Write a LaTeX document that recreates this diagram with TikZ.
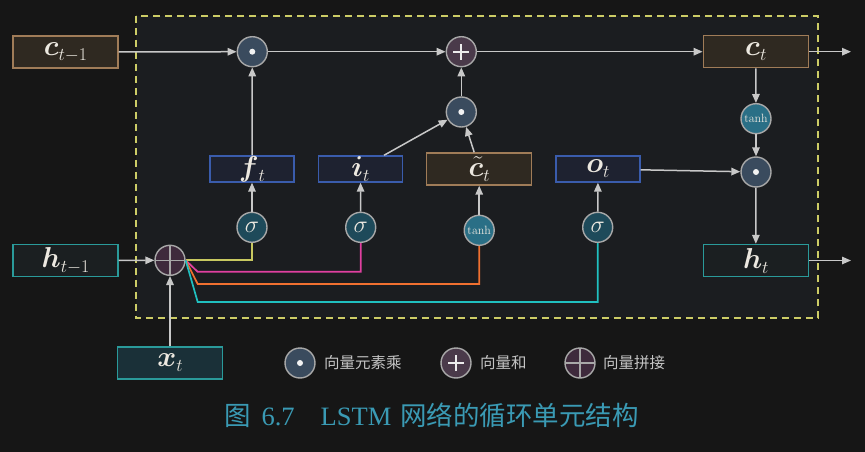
\RequirePackage{fix-cm}
\documentclass[tikz,border=0pt]{standalone}
\usepackage{fontspec}
\usepackage{bm}
\newfontfamily\cjk{Noto Sans CJK SC}
\newfontfamily\capserif{Liberation Serif}
\usetikzlibrary{arrows.meta,calc}
\newcommand\mylab[2]{\scalebox{1.2}{$\bm{#1}$}\raisebox{-5pt}{\fontsize{18}{18}\selectfont$#2$}}
\definecolor{bgc}{HTML}{161616}
\definecolor{innerc}{HTML}{1B1D20}
\definecolor{dashc}{HTML}{CCCC66}
\definecolor{arrc}{HTML}{C8C8C8}
\definecolor{cbord}{HTML}{A8A8A8}
\definecolor{mulfill}{HTML}{3A4B5E}
\definecolor{plusfill}{HTML}{4A3A4A}
\definecolor{catfill}{HTML}{3E2A3C}
\definecolor{sigfill}{HTML}{1E4A5A}
\definecolor{tanhfill}{HTML}{2A6F86}
\definecolor{gatefill}{HTML}{1E2230}
\definecolor{gatebord}{HTML}{3A5CAC}
\definecolor{brownfill}{HTML}{2F2921}
\definecolor{brownbord}{HTML}{A07C58}
\definecolor{tealbord}{HTML}{2A9A9A}
\definecolor{tealfill}{HTML}{1B1F21}
\definecolor{xfill}{HTML}{1A3038}
\definecolor{labc}{HTML}{ECE8E0}
\definecolor{yelc}{HTML}{C8C860}
\definecolor{pinkc}{HTML}{E040A0}
\definecolor{orgc}{HTML}{F07030}
\definecolor{cyanc}{HTML}{20C0C0}
\definecolor{capc}{HTML}{3A9AB4}
\definecolor{legc}{HTML}{C4C4C4}
\begin{document}
\begin{tikzpicture}[x=1pt,y=-1pt,
  arr/.style={draw=arrc, line width=1.5pt, -{Triangle[length=9pt,width=7.5pt]}},
  opnode/.style={circle, minimum size=30pt, inner sep=0pt, draw=cbord, line width=1.4pt},
  mulnode/.style={opnode, fill=mulfill, path picture={\fill[white!90!gray] (path picture bounding box.center) circle (3pt);}},
  plusnode/.style={opnode, fill=plusfill, path picture={
     \draw[white!85!gray, line width=1.7pt] ([xshift=-8pt]path picture bounding box.center) -- ([xshift=8pt]path picture bounding box.center);
     \draw[white!85!gray, line width=1.7pt] ([yshift=-8pt]path picture bounding box.center) -- ([yshift=8pt]path picture bounding box.center);}},
  catnode/.style={opnode, fill=catfill, path picture={
     \draw[cbord, line width=1.1pt] ([xshift=-16pt]path picture bounding box.center) -- ([xshift=16pt]path picture bounding box.center);
     \draw[cbord, line width=1.1pt] ([yshift=-16pt]path picture bounding box.center) -- ([yshift=16pt]path picture bounding box.center);}},
  signode/.style={opnode, fill=sigfill, text=labc, font=\fontsize{20}{22}\selectfont},
  tanhnode/.style={opnode, fill=tanhfill, text=labc, font=\fontsize{12}{13}\selectfont},
  labfont/.style={text=labc, font=\fontsize{24}{26}\selectfont},
  gatebox/.style={draw=gatebord, fill=gatefill, line width=1.4pt, minimum width=84pt, minimum height=26pt, inner sep=0pt, labfont},
  brownbox/.style={draw=brownbord, fill=brownfill, line width=1.4pt, minimum width=105pt, minimum height=32pt, inner sep=0pt, labfont},
  tealbox/.style={draw=tealbord, fill=tealfill, line width=1.4pt, minimum width=105pt, minimum height=32pt, inner sep=0pt, labfont},
  legtext/.style={anchor=west, text=legc, inner sep=0pt, font=\cjk\fontsize{15.5}{16}\selectfont},
  cline/.style={line width=1.7pt}
]
\useasboundingbox (0,0) rectangle (865,452);
\fill[bgc] (0,0) rectangle (865,452);
\draw[dashc, fill=innerc, line width=2pt, dash pattern=on 7pt off 5pt] (136,16) rectangle (818,318);

% boxes
\node[brownbox] (cprev) at (65.5,52) {\mylab{c}{t{-}1}};
\node[brownbox] (ct) at (755.8,51.7) {\mylab{c}{t}};
\node[tealbox] (hprev) at (65.5,260.5) {\mylab{h}{t{-}1}};
\node[tealbox] (ht) at (755.8,260.5) {\mylab{h}{t}};
\node[tealbox, fill=xfill] (xt) at (170,363) {\mylab{x}{t}};
\node[gatebox] (ft) at (252,169) {\mylab{f}{t}};
\node[gatebox] (it) at (360.5,169) {\mylab{i}{t}};
\node[brownbox] (cc) at (479.2,169) {\mylab{\tilde{c}}{t}};
\node[gatebox] (ot) at (598,169) {\mylab{o}{t}};

% operators
\node[mulnode] (m1) at (252.3,51.7) {};
\node[plusnode] (p1) at (461.3,51.7) {};
\node[mulnode] (m2) at (461.3,112) {};
\node[tanhnode] (th2) at (756,118.7) {tanh};
\node[mulnode] (m3) at (756,172) {};
\node[signode] (sf) at (252,227.3) {\scalebox{1.2}{$\sigma$}};
\node[signode] (si) at (360.7,227.3) {\scalebox{1.2}{$\sigma$}};
\node[tanhnode] (tc) at (479.2,230.3) {tanh};
\node[signode] (so) at (597.7,227.3) {\scalebox{1.2}{$\sigma$}};
\node[catnode] (cat) at (170,260.3) {};

\coordinate (cout) at (851,51.7);
\coordinate (hout) at (851,260.5);

% colored lines
\draw[cline, yelc] (cat.east) -- (sf.south |- cat.east) -- (sf.south);
\draw[cline, pinkc] (cat.east) -- ($(cat.east)+(12,11.5)$) -- (si.south |- {$(cat.east)+(12,11.5)$}) -- (si.south);
\draw[cline, orgc] (cat.east) -- ($(cat.east)+(12,23.7)$) -- (tc.south |- {$(cat.east)+(12,23.7)$}) -- (tc.south);
\draw[cline, cyanc] (cat.east) -- ($(cat.east)+(12,41.7)$) -- (so.south |- {$(cat.east)+(12,41.7)$}) -- (so.south);

% arrows
\draw[arr] (cprev) -- (m1);
\draw[arr] (m1) -- (p1);
\draw[arr] (p1) -- (ct);
\draw[arr] (ct) -- (cout);
\draw[arr] (ct) -- (th2);
\draw[arr] (th2) -- (m3);
\draw[arr] (ot) -- (m3);
\draw[arr] (m3) -- (ht);
\draw[arr] (ht) -- (hout);
\draw[arr] (ft) -- (m1);
\draw[arr] (sf) -- (ft);
\draw[arr] (si) -- (it);
\draw[arr] (tc) -- (cc);
\draw[arr] (so) -- (ot);
\draw[arr] ([xshift=23.5pt]it.north) -- (m2);
\draw[arr] ([xshift=-5pt]cc.north) -- (m2);
\draw[arr] (m2) -- (p1);
\draw[arr] (hprev) -- (cat);
\draw[arr] (xt) -- (cat);

% legend
\node[mulnode] (lg1) at (300,363) {};
\node[legtext] (lt1) at (324,363) {向量元素乘};
\node[plusnode] (lg2) at (456,363) {};
\node[legtext] (lt2) at (480,363) {向量和};
\node[catnode] (lg3) at (580,363) {};
\node[legtext] (lt3) at (603,363) {向量拼接};

% caption
\node[text=capc, inner sep=0pt, font=\fontsize{26.5}{29}\selectfont] (cap) at (431.5,415) {{\cjk 图}\hspace{11pt}{\capserif 6.7}\hspace{26pt}{\capserif LSTM}\hspace{9pt}{\cjk 网络的循环单元结构}};
\end{tikzpicture}
\end{document}
